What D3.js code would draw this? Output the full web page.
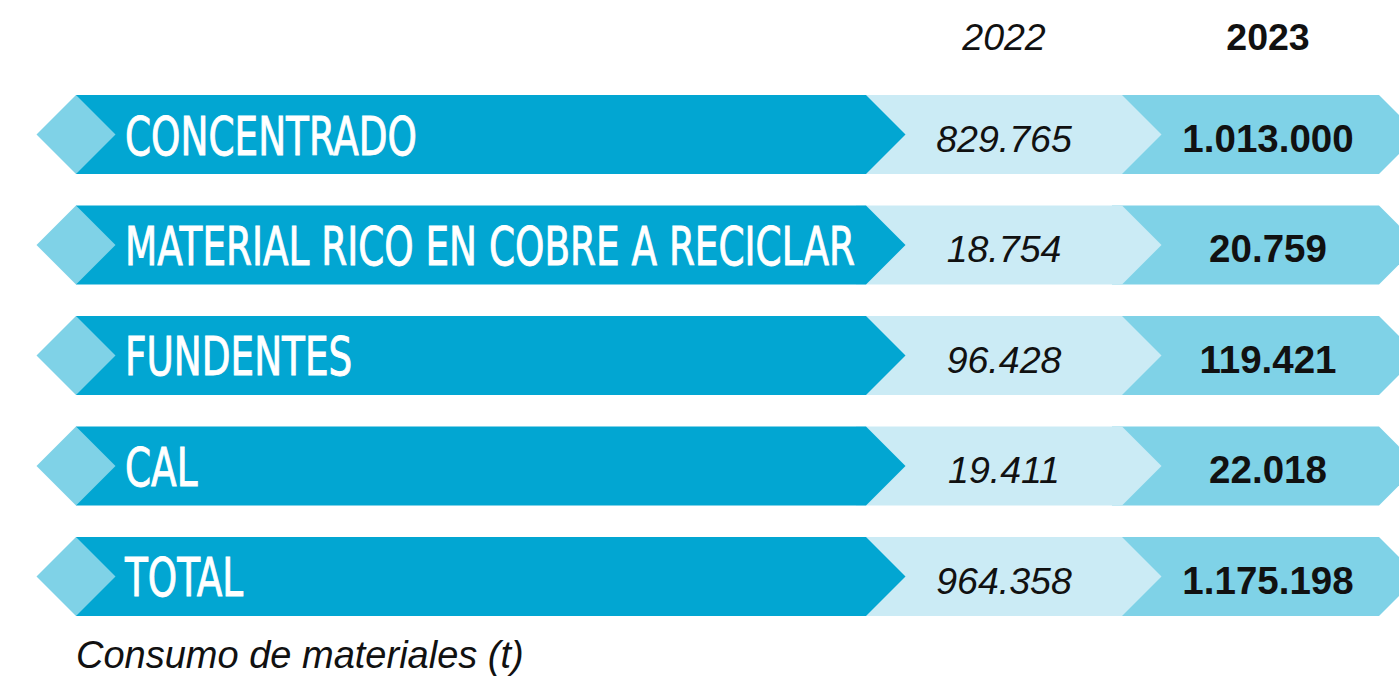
<!DOCTYPE html>
<html>
<head>
<meta charset="utf-8">
<script src="https://d3js.org/d3.v7.min.js"></script>
<style>
  html, body { margin: 0; padding: 0; background: #fff; }
  svg { display: block; }
</style>
</head>
<body>
<div id="chart"></div>
<script>
// Chart data
const categories = ['CONCENTRADO', 'MATERIAL RICO EN COBRE A RECICLAR', 'FUNDENTES', 'CAL', 'TOTAL'];
const years = ['2022', '2023'];
const values2022 = ['829.765', '18.754', '96.428', '19.411', '964.358'];
const values2023 = ['1.013.000', '20.759', '119.421', '22.018', '1.175.198'];
const caption = 'Consumo de materiales (t)';

const width = 1399, height = 678;
const dark = '#02a6d2', mid = '#7fd2e7', pale = '#cbebf5';

const svg = d3.select('#chart')
    .append('svg')
    .attr('width', width)
    .attr('height', height);

// Rows
const y = d3.scaleBand()
    .domain(categories)
    .range([95, 616])
    .paddingInner(0.285)
    .paddingOuter(0);

const h = y.bandwidth();
const half = h / 2;

// column edges
const xStart = 76, xDark = 866, xPale = 1122, xMid = 1379;
const col = { '2022': 1004, '2023': 1268 };

const rows = svg.selectAll('.row')
    .data(categories)
    .enter()
    .append('g')
    .attr('class', 'row')
    .attr('transform', d => `translate(0,${y(d)})`);

// 2023 band (drawn first, under the pale chevron)
rows.append('path')
    .attr('fill', mid)
    .attr('d', `M${xPale - 10},0 L${xMid},0 L${xMid + half},${half} L${xMid},${h} L${xPale - 10},${h} Z`);

// 2022 pale chevron
rows.append('path')
    .attr('fill', pale)
    .attr('d', `M${xDark - 10},0 L${xPale},0 L${xPale + half},${half} L${xPale},${h} L${xDark - 10},${h} Z`);

// dark label band
rows.append('path')
    .attr('fill', dark)
    .attr('d', `M${xStart},0 L${xDark},0 L${xDark + half},${half} L${xDark},${h} L${xStart},${h} Z`);

// left diamond
rows.append('path')
    .attr('fill', mid)
    .attr('d', `M${xStart - half},${half} L${xStart},0 L${xStart + half},${half} L${xStart},${h} Z`);

// labels
const labels = rows.append('text')
    .attr('x', 0)
    .attr('y', half + 20)
    .attr('fill', '#fff')
    .attr('stroke', '#fff')
    .attr('stroke-width', 0.9)
    .attr('font-family', '"Liberation Sans Narrow", "DejaVu Sans Condensed", sans-serif')
    .attr('font-size', 53)
    .text(d => d);

// squeeze labels so the longest one fits the band
const widest = d3.max(labels.nodes(), n => n.getComputedTextLength());
const sx = Math.min(1, 730 / widest);
labels.attr('transform', `translate(125,0) scale(${sx},1)`);

// values
rows.append('text')
    .attr('x', col['2022'])
    .attr('y', half + 17.5)
    .attr('text-anchor', 'middle')
    .attr('font-family', '"Liberation Sans", Arial, sans-serif')
    .attr('font-style', 'italic')
    .attr('font-size', 37.5)
    .attr('fill', '#111')
    .text((d, i) => values2022[i]);

rows.append('text')
    .attr('x', col['2023'])
    .attr('y', half + 17.5)
    .attr('text-anchor', 'middle')
    .attr('font-family', '"Liberation Sans", Arial, sans-serif')
    .attr('font-weight', 'bold')
    .attr('font-size', 38.5)
    .attr('fill', '#111')
    .text((d, i) => values2023[i]);

// year headers
svg.selectAll('.year')
    .data(years)
    .enter()
    .append('text')
    .attr('class', 'year')
    .attr('x', d => col[d])
    .attr('y', 50)
    .attr('text-anchor', 'middle')
    .attr('font-family', '"Liberation Sans", Arial, sans-serif')
    .attr('font-size', 37.5)
    .attr('font-style', d => d === '2022' ? 'italic' : 'normal')
    .attr('font-weight', d => d === '2023' ? 'bold' : 'normal')
    .attr('fill', '#111')
    .text(d => d);

// caption
svg.append('text')
    .attr('x', 76)
    .attr('y', 668)
    .attr('font-family', '"Liberation Sans", Arial, sans-serif')
    .attr('font-style', 'italic')
    .attr('font-size', 38)
    .attr('fill', '#111')
    .text(caption);
</script>
</body>
</html>
